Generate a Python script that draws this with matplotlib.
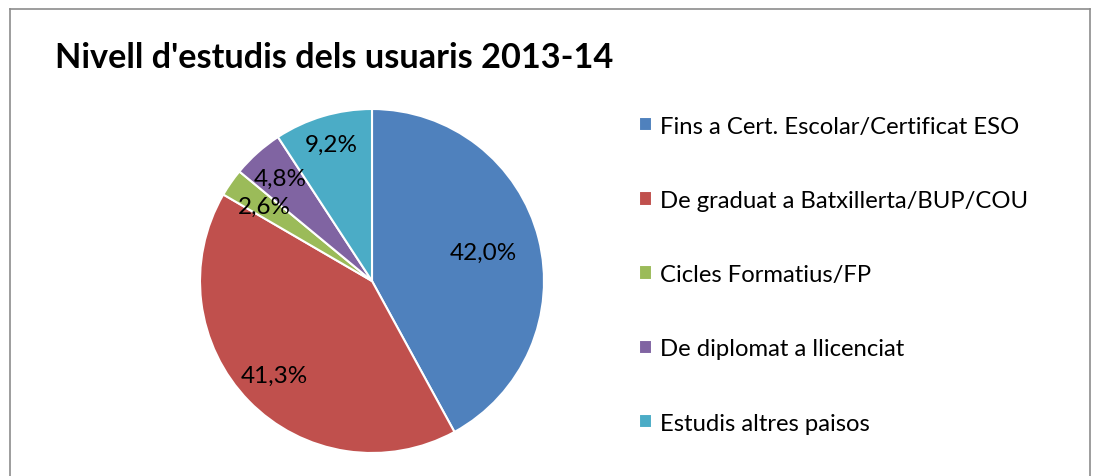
import matplotlib
matplotlib.use('Agg')
import matplotlib.pyplot as plt
from matplotlib.lines import Line2D
import numpy as np

# Dades
categories = ['Fins a Cert. Escolar/Certificat ESO',
              'De graduat a Batxillerta/BUP/COU',
              'Cicles Formatius/FP',
              'De diplomat a llicenciat',
              'Estudis altres paisos']
percentatges = [42.0, 41.3, 2.6, 4.8, 9.2]
titol = "Nivell d'estudis dels usuaris 2013-14"

colors = ['#4F81BD', '#C0504D', '#9BBB59', '#8064A2', '#4BACC6']
label_dist = [0.67, 0.79, 0.76, 0.80, 0.83]   # distancia relativa de cada etiqueta

plt.rcParams['font.family'] = ['Lato', 'DejaVu Sans']

W, H = 1094, 477
fig = plt.figure(figsize=(W / 100, H / 100), dpi=100)

# marc del grafic (esquerra, dalt, dreta)
fx = lambda px: px / W
fy = lambda py: 1 - py / H
for xs, ys in [([10, 10], [10, 480]), ([10, 1090], [10, 10]), ([1090, 1090], [10, 480])]:
    fig.add_artist(Line2D([fx(x) for x in xs], [fy(y) for y in ys],
                          color='#8c8c8c', linewidth=1.2))

# pastis
cx, cy, r = 372, 282, 172
ax = fig.add_axes([fx(cx - r), fy(cy + r), 2 * r / W, 2 * r / H])
wedges, _ = ax.pie(percentatges, colors=colors, startangle=90, counterclock=False,
                   wedgeprops=dict(edgecolor='white', linewidth=1.5))
ax.set_aspect('equal')
ax.set_xlim(-1, 1)
ax.set_ylim(-1, 1)

for w, v, d in zip(wedges, percentatges, label_dist):
    ang = np.deg2rad((w.theta1 + w.theta2) / 2)
    ax.text(d * np.cos(ang), d * np.sin(ang), f"{v:.1f}%".replace('.', ','),
            ha='center', va='center', fontsize=17.5, color='black')

fig.text(fx(55), fy(58), titol, fontsize=24.7, fontweight='bold', ha='left', va='center')

fig.legend(wedges, categories, loc='upper left', bbox_to_anchor=(fx(629), fy(107)),
           frameon=False, fontsize=17.2, handlelength=0.55, handleheight=0.55,
           handletextpad=0.35, labelspacing=2.23, borderaxespad=0)

fig.savefig('out.png', dpi=100)
